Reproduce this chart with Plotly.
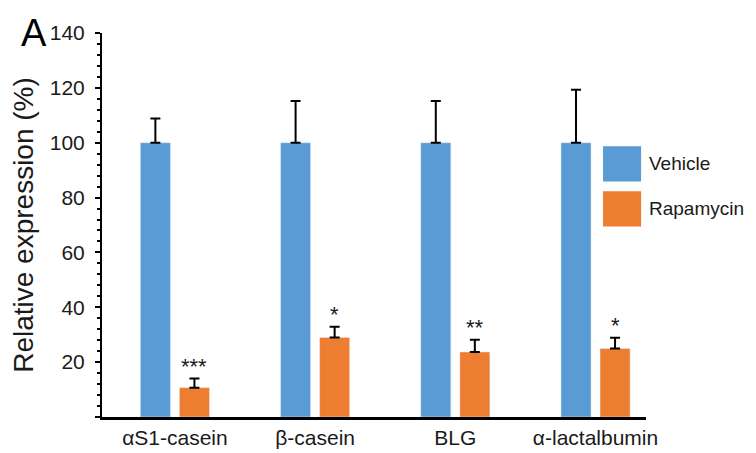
import plotly.graph_objects as go

categories = ["αS1-casein", "β-casein", "BLG", "α-lactalbumin"]
vehicle = [100, 100, 100, 100]
vehicle_err = [8.8, 15.2, 15.2, 19.3]
rapamycin = [10.7, 29.0, 23.7, 25.0]
rapamycin_err = [3.3, 3.9, 4.5, 3.9]
signif = ["***", "*", "**", "*"]
y_ticks = [0, 20, 40, 60, 80, 100, 120, 140]
y_ticktext = ["", "20", "40", "60", "80", "100", "120", "140"]

BLUE = "#5B9BD5"
ORANGE = "#ED7D31"
FONT = "Liberation Sans, Arial, sans-serif"
TXT = "#1a1a1a"

W, H = 756, 453
ML, MR, MT, MB = 94, 118, 25, 35
XR = [-0.52, 3.36]
BARGAP = 0.443
BARGROUPGAP = 0.23

fig = go.Figure()
fig.add_trace(go.Bar(
    x=categories, y=vehicle, name="Vehicle", marker_color=BLUE,
    error_y=dict(type="data", symmetric=False, array=vehicle_err,
                 arrayminus=[0] * len(vehicle), color="black", thickness=2, width=5),
))
fig.add_trace(go.Bar(
    x=categories, y=rapamycin, name="Rapamycin", marker_color=ORANGE,
    error_y=dict(type="data", symmetric=False, array=rapamycin_err,
                 arrayminus=[0] * len(rapamycin), color="black", thickness=2, width=5),
))

# x shift of the second bar in each group (pixels)
px_per_cat = (W - ML - MR) / (XR[1] - XR[0])
shift = px_per_cat * (1 - BARGAP) / 4

for c, v, e, s in zip(categories, rapamycin, rapamycin_err, signif):
    fig.add_annotation(x=c, y=v + e, text=s, showarrow=False, xshift=shift,
                       yanchor="bottom", yshift=-2,
                       font=dict(family=FONT, size=22, color=TXT))

# legend drawn as layout shapes / text
legend_items = [("Vehicle", BLUE, 0.705, 0.613), ("Rapamycin", ORANGE, 0.588, 0.496)]
for name, col, y1, y0 in legend_items:
    fig.add_shape(type="rect", xref="paper", yref="paper", x0=0.921, x1=0.991,
                  y0=y0, y1=y1, fillcolor=col, line=dict(width=0))
    fig.add_annotation(xref="paper", yref="paper", x=1.004, y=(y0 + y1) / 2,
                       text=name, showarrow=False, xanchor="left", yanchor="middle",
                       borderpad=0,
                       font=dict(family=FONT, size=19, color=TXT))

fig.add_annotation(xref="paper", yref="paper", x=-0.153, y=1.0, text="A",
                   showarrow=False, xanchor="left", yanchor="middle",
                   font=dict(family=FONT, size=38, color="black"))

fig.update_layout(
    width=W, height=H,
    margin=dict(l=ML, r=MR, t=MT, b=MB),
    paper_bgcolor="white", plot_bgcolor="white",
    barmode="group", bargap=BARGAP, bargroupgap=BARGROUPGAP,
    showlegend=False,
    font=dict(family=FONT, color=TXT),
)
fig.update_xaxes(
    type="category", range=XR, showline=True, linecolor="black", linewidth=3,
    ticks="", showgrid=False, tickfont=dict(size=21, family=FONT, color=TXT),
    zeroline=False,
)
fig.update_yaxes(
    range=[0, 140], tickmode="array", tickvals=y_ticks, ticktext=y_ticktext,
    showline=True, linecolor="black", linewidth=2, ticks="outside", ticklen=5,
    tickwidth=2, tickcolor="black", showgrid=False, zeroline=False,
    tickfont=dict(size=21, family=FONT, color=TXT),
    ticklabelstandoff=6,
    minor=dict(tickmode="linear", tick0=0, dtick=4, ticks="outside", ticklen=3,
               tickwidth=2, tickcolor="black", showgrid=False),
    title=dict(text="Relative expression (%)", font=dict(size=28, family=FONT, color=TXT),
               standoff=8),
)

fig.write_html("out.html")
